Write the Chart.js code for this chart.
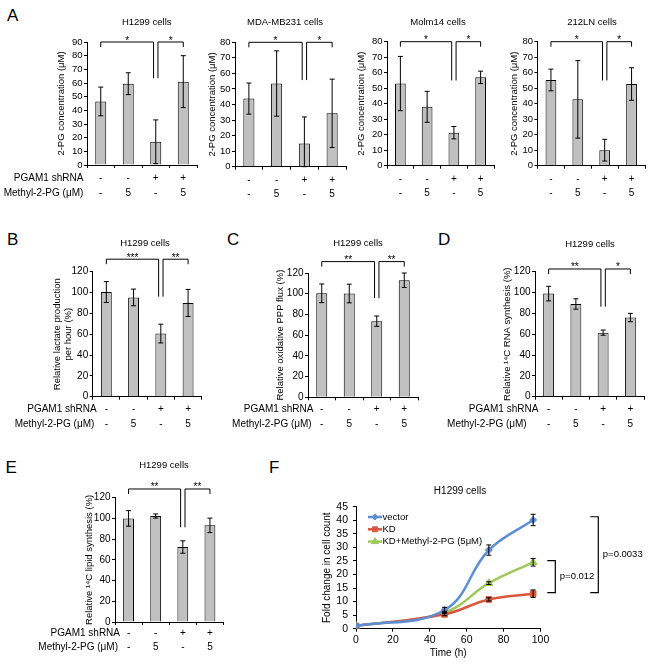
<!DOCTYPE html>
<html><head><meta charset="utf-8">
<script src="https://cdn.jsdelivr.net/npm/chart.js@4.4.1/dist/chart.umd.min.js"></script>
<style>
html,body{margin:0;padding:0;background:#fff}
#page{position:relative;width:651px;height:665px;overflow:hidden;background:#fff;font-family:"Liberation Sans",Arial,sans-serif}
#page canvas{position:absolute}
.pl{position:absolute;font-size:17px;line-height:17px;color:#000}
</style></head><body><div id="page">
<div class="pl" style="left:7px;top:6.6px">A</div>
<div class="pl" style="left:7px;top:230.6px">B</div>
<div class="pl" style="left:227px;top:231.3px">C</div>
<div class="pl" style="left:438px;top:230.6px">D</div>
<div class="pl" style="left:5.5px;top:458.6px">E</div>
<div class="pl" style="left:269px;top:458.6px">F</div>
</div>
<script>
const FONT = '"Liberation Sans", Arial, sans-serif';
Chart.defaults.font.family = FONT;
Chart.defaults.color = '#000';

// ---- shared categories ----
const categories = ['control', 'Methyl-2-PG', 'PGAM1 shRNA', 'PGAM1 shRNA + Methyl-2-PG'];
const shRNA = ['-', '-', '+', '+'];
const methyl2PG = ['-', '5', '-', '5'];
const rowHeaders = ['PGAM1 shRNA', 'Methyl-2-PG (\u03bcM)'];

// ---- panel A: 2-PG concentration (uM) ----
const a_h1299 = [46.5, 59.5, 17, 61];
const a_h1299_err = [10.5, 8, 16, 19];
const a_mda = [43.8, 53.5, 15, 34.3];
const a_mda_err = [10, 21, 17, 22];
const a_molm = [53, 38, 21.3, 57];
const a_molm_err = [17.5, 10, 4, 4];
const a_212 = [55.3, 42.8, 10, 52.7];
const a_212_err = [7, 25, 7, 10.5];
// ---- panels B-E (%) ----
const b_lactate = [100.5, 95.3, 60.6, 90];
const b_lactate_err = [10, 8, 9, 13];
const c_ppp = [100.4, 100.2, 73.5, 113];
const c_ppp_err = [9, 9, 5, 7];
const d_rna = [99, 89, 61.5, 76];
const d_rna_err = [7, 5, 2.5, 4];
const e_lipid = [100, 102.3, 72.4, 93.3];
const e_lipid_err = [7.5, 2, 6, 7];
// significance: [top of bracket, drop of inner legs] and marks
const sig_a_h1299 = [90, 63.5], sig_a_h1299_marks = ['*', '*'];
const sig_a_mda = [80, 55.7], sig_a_mda_marks = ['*', '*'];
const sig_a_molm = [80, 55], sig_a_molm_marks = ['*', '*'];
const sig_a_212 = [80, 55], sig_a_212_marks = ['*', '*'];
const sig_b = [132, 96], sig_b_marks = ['***', '**'];
const sig_c = [131, 95.7], sig_c_marks = ['**', '**'];
const sig_d = [122.6, 86.4], sig_d_marks = ['**', '*'];
const sig_e = [128.4, 91.4], sig_e_marks = ['**', '**'];

// ---- panel F: growth curve ----
const f_time = [0, 48, 72, 96];
const f_xticks = [0, 20, 40, 60, 80, 100];
const f_yticks = [0, 5, 10, 15, 20, 25, 30, 35, 40, 45];
const f_vector = [1, 6.9, 29, 40.1];
const f_vector_err = [0, 1, 1.9, 2.1];
const f_kd = [1, 5.3, 10.8, 12.9];
const f_kd_err = [0, 0.5, 0.6, 1.4];
const f_kdm = [1, 6, 16.8, 24.5];
const f_kdm_err = [0, 0.4, 0.5, 1.4];
const f_labels = ['vector', 'KD', 'KD+Methyl-2-PG (5\u03bcM)'];
const f_pvalues = ['p=0.012', 'p=0.0033'];
const f_pranges = [[13.3, 25.1], [13.3, 41.3]];

const page = document.getElementById('page');
const FS = 9.5, FR = 10, LH = 14.5;

function makeCanvas(box) {
  const cv = document.createElement('canvas');
  cv.width = box.w; cv.height = box.h;
  cv.style.left = box.x + 'px'; cv.style.top = box.y + 'px';
  cv.style.width = box.w + 'px'; cv.style.height = box.h + 'px';
  page.appendChild(cv);
  return cv;
}

function barExtras(c) {
  return { id: 'barExtras', afterDraw(chart) {
    const ctx = chart.ctx, ys = chart.scales.y, xs = chart.scales.x;
    const meta = chart.getDatasetMeta(0);
    const ox = c.box.x, oy = c.box.y;
    ctx.save();
    ctx.strokeStyle = '#000'; ctx.fillStyle = '#000'; ctx.lineWidth = 1;
    // error bars
    c.values.forEach((v, i) => {
      const x = meta.data[i].x;
      const yT = ys.getPixelForValue(v + c.errors[i]);
      const yB = ys.getPixelForValue(Math.max(0, v - c.errors[i]));
      ctx.beginPath();
      ctx.moveTo(x, yT); ctx.lineTo(x, yB);
      ctx.moveTo(x - 2.5, yT); ctx.lineTo(x + 2.5, yT);
      ctx.moveTo(x - 2.5, yB); ctx.lineTo(x + 2.5, yB);
      ctx.stroke();
    });
    // significance brackets
    const yTop = ys.getPixelForValue(c.sig[0]), yDrop = ys.getPixelForValue(c.sig[1]);
    const x0 = meta.data[0].x, x2 = meta.data[2].x, x3 = meta.data[3].x;
    const g = 2.2, tk = 5;
    ctx.beginPath();
    ctx.moveTo(x0, yTop + tk); ctx.lineTo(x0, yTop); ctx.lineTo(x2 - g, yTop); ctx.lineTo(x2 - g, yDrop);
    ctx.moveTo(x2 + g, yDrop); ctx.lineTo(x2 + g, yTop); ctx.lineTo(x3, yTop); ctx.lineTo(x3, yTop + tk);
    ctx.stroke();
    ctx.font = '10px ' + FONT; ctx.textAlign = 'center'; ctx.textBaseline = 'alphabetic';
    ctx.fillText(c.marks[0], (x0 + x2 - g) / 2, yTop + 1.5);
    ctx.fillText(c.marks[1], (x2 + g + x3) / 2, yTop + 1.5);
    // title
    ctx.font = FS + 'px ' + FONT; ctx.textBaseline = 'middle';
    ctx.fillText(c.title[0], c.title[1] - ox, c.title[2] - oy);
    // row headers
    if (c.headerEnd) {
      ctx.font = FR + 'px ' + FONT;
      const y1 = xs.top + 3 + c.tickPad + LH / 2;
      ctx.textAlign = 'right';
      rowHeaders.forEach((h, k) => ctx.fillText(h, c.headerEnd[k] - ox, y1 + k * LH));
    }
    ctx.restore();
  }};
}

function makeBarChart(c) {
  const box = c.box, area = c.area;
  const cv = makeCanvas(box);
  const yw = area.l - box.x, xh = box.y + box.h - area.b;
  const ylh = c.ytitleLH || FS * 1.2;
  return new Chart(cv, {
    type: 'bar',
    data: {
      labels: categories.map((_, i) => [shRNA[i], methyl2PG[i]]),
      datasets: [{ data: c.values, backgroundColor: '#c0c0c0', borderColor: '#000', borderWidth: 1,
        categoryPercentage: 0.8, barPercentage: 0.5 }]
    },
    options: {
      responsive: false, animation: false, devicePixelRatio: 1,
      layout: { padding: { left: 0, top: area.t - box.y, right: box.x + box.w - area.r, bottom: 0 } },
      plugins: { legend: { display: false }, tooltip: { enabled: false } },
      scales: {
        x: {
          grid: { display: true, drawOnChartArea: false, tickLength: 3, color: '#000', offset: true },
          border: { display: true, color: '#000', width: 1 },
          ticks: { font: { size: FR, family: FONT, lineHeight: LH + 'px' }, color: '#000', padding: c.tickPad, maxRotation: 0, autoSkip: false },
          afterFit(s) { s.height = xh; }
        },
        y: {
          min: 0, max: c.max,
          ticks: { stepSize: c.step, font: { size: c.tickFS, family: FONT }, color: '#000', padding: 1.5, autoSkip: false },
          grid: { drawOnChartArea: false, tickLength: 3, color: '#000' },
          border: { display: true, color: '#000', width: 1 },
          title: { display: true, text: c.ytitle, color: '#000',
            font: { size: FS, family: FONT, lineHeight: ylh + 'px' },
            padding: { top: c.ytitleX - box.x - ylh / 2, bottom: 0 } },
          afterFit(s) { s.width = yw; }
        }
      }
    },
    plugins: [barExtras(c)]
  });
}

makeBarChart({ box: { x: 0, y: 12, w: 205, h: 195 }, area: { l: 87, t: 42, r: 197, b: 165 },
  values: a_h1299, errors: a_h1299_err, sig: sig_a_h1299, marks: sig_a_h1299_marks, max: 90, step: 10, tickFS: 9.5,
  ytitle: '2-PG concentration (\u03bcM)', ytitleX: 61, title: ['H1299 cells', 146.7, 22],
  headerEnd: [83.3, 83.3], tickPad: 3 });
makeBarChart({ box: { x: 205, y: 12, w: 148, h: 195 }, area: { l: 235, t: 42.3, r: 346, b: 166.7 },
  values: a_mda, errors: a_mda_err, sig: sig_a_mda, marks: sig_a_mda_marks, max: 80, step: 10, tickFS: 9.5,
  ytitle: '2-PG concentration (\u03bcM)', ytitleX: 212.7, title: ['MDA-MB231 cells', 285, 22], tickPad: 3 });
makeBarChart({ box: { x: 353, y: 12, w: 148, h: 195 }, area: { l: 387, t: 41.7, r: 494, b: 165.7 },
  values: a_molm, errors: a_molm_err, sig: sig_a_molm, marks: sig_a_molm_marks, max: 80, step: 10, tickFS: 9.5,
  ytitle: '2-PG concentration (\u03bcM)', ytitleX: 361.7, title: ['Molm14 cells', 438, 22], tickPad: 3 });
makeBarChart({ box: { x: 501, y: 12, w: 150, h: 195 }, area: { l: 537.5, t: 41.7, r: 645, b: 165.7 },
  values: a_212, errors: a_212_err, sig: sig_a_212, marks: sig_a_212_marks, max: 80, step: 10, tickFS: 9.5,
  ytitle: '2-PG concentration (\u03bcM)', ytitleX: 514, title: ['212LN cells', 592, 22], tickPad: 3 });

makeBarChart({ box: { x: 0, y: 232, w: 215, h: 200 }, area: { l: 92.7, t: 271.7, r: 201.7, b: 396.7 },
  values: b_lactate, errors: b_lactate_err, sig: sig_b, marks: sig_b_marks, max: 120, step: 20, tickFS: 10,
  ytitle: ['Relative lactate production', 'per hour (%)'], ytitleX: 57.3, ytitleLH: 11,
  title: ['H1299 cells', 145, 243.5], headerEnd: [96.7, 94.3], tickPad: 2.5 });
makeBarChart({ box: { x: 215, y: 232, w: 215, h: 200 }, area: { l: 308, t: 273, r: 418, b: 397.3 },
  values: c_ppp, errors: c_ppp_err, sig: sig_c, marks: sig_c_marks, max: 120, step: 20, tickFS: 10,
  ytitle: 'Relative oxidative PPP flux (%)', ytitleX: 280.7,
  title: ['H1299 cells', 358, 243.5], headerEnd: [313.3, 311.7], tickPad: 2 });
makeBarChart({ box: { x: 430, y: 232, w: 221, h: 200 }, area: { l: 535, t: 271.7, r: 644, b: 396.7 },
  values: d_rna, errors: d_rna_err, sig: sig_d, marks: sig_d_marks, max: 120, step: 20, tickFS: 10,
  ytitle: 'Relative \u00b9\u2074C RNA synthesis (%)', ytitleX: 507.7,
  title: ['H1299 cells', 590, 244.5], headerEnd: [538.3, 526.7], tickPad: 2.5 });
makeBarChart({ box: { x: 0, y: 455, w: 240, h: 210 }, area: { l: 115, t: 497.7, r: 223.5, b: 622 },
  values: e_lipid, errors: e_lipid_err, sig: sig_e, marks: sig_e_marks, max: 120, step: 20, tickFS: 10,
  ytitle: 'Relative \u00b9\u2074C lipid synthesis (%)', ytitleX: 89,
  title: ['H1299 cells', 164, 465], headerEnd: [120, 118], tickPad: 0.5 });

// ---- panel F ----
(function () {
  const box = { x: 300, y: 478, w: 351, h: 187 }, area = { l: 356, t: 506.7, r: 540.5, b: 628.7 };
  const cv = makeCanvas(box);
  const colors = ['#5b8ed6', '#d9583c', '#9dc85a'];
  const styles = ['rectRot', 'rect', 'triangle'];
  const radii = [3.5, 4, 4.5];
  const series = [f_vector, f_kd, f_kdm];
  const errs = [f_vector_err, f_kd_err, f_kdm_err];
  const tf = { size: 10.5, family: FONT };
  const titleFont = { size: 10, family: FONT, lineHeight: '12px' };
  const extras = { id: 'fExtras', afterDraw(chart) {
    const ctx = chart.ctx, xs = chart.scales.x, ys = chart.scales.y, ca = chart.chartArea;
    const ox = box.x, oy = box.y;
    ctx.save();
    ctx.strokeStyle = '#000'; ctx.fillStyle = '#000'; ctx.lineWidth = 1;
    series.forEach((s, di) => s.forEach((v, i) => {
      const e = errs[di][i]; if (!e) return;
      const x = xs.getPixelForValue(f_time[i]);
      const t = ys.getPixelForValue(v + e), b = ys.getPixelForValue(v - e);
      ctx.beginPath();
      ctx.moveTo(x, t); ctx.lineTo(x, b);
      ctx.moveTo(x - 2.5, t); ctx.lineTo(x + 2.5, t);
      ctx.moveTo(x - 2.5, b); ctx.lineTo(x + 2.5, b);
      ctx.stroke();
    }));
    // legend
    ctx.font = '9.5px ' + FONT; ctx.textBaseline = 'middle'; ctx.textAlign = 'left';
    f_labels.forEach((lab, i) => {
      const y = 517 - oy + i * 12.3, x1 = 368 - ox, x2 = 382 - ox;
      ctx.strokeStyle = colors[i]; ctx.fillStyle = colors[i]; ctx.lineWidth = 2.5;
      ctx.beginPath(); ctx.moveTo(x1, y); ctx.lineTo(x2, y); ctx.stroke();
      ctx.lineWidth = 1;
      Chart.helpers.drawPoint(ctx, { pointStyle: styles[i], radius: radii[i] - 0.5, rotation: 0, borderWidth: 1 }, (x1 + x2) / 2, y);
      ctx.fillStyle = '#000';
      ctx.fillText(lab, x2 + 0.5, y);
    });
    // title
    ctx.textAlign = 'center'; ctx.font = '10px ' + FONT;
    ctx.fillText('H1299 cells', 460 - ox, 491.7 - oy);
    // p-value brackets
    ctx.strokeStyle = '#000'; ctx.lineWidth = 1.2; ctx.textAlign = 'left'; ctx.font = '9.5px ' + FONT;
    const xv = [ca.right + 14.8, ca.right + 57.8];
    f_pranges.forEach((r, k) => {
      const yl = ys.getPixelForValue(r[0]), yh = ys.getPixelForValue(r[1]);
      ctx.beginPath();
      ctx.moveTo(xv[k] - 8, yh); ctx.lineTo(xv[k], yh); ctx.lineTo(xv[k], yl); ctx.lineTo(xv[k] - 8, yl);
      ctx.stroke();
      ctx.fillText(f_pvalues[k], xv[k] + 4.5, (yl + yh) / 2);
    });
    ctx.restore();
  }};
  new Chart(cv, {
    type: 'line',
    data: {
      datasets: series.map((s, i) => ({
        label: f_labels[i],
        data: s.map((v, j) => ({ x: f_time[j], y: v })),
        borderColor: colors[i], backgroundColor: colors[i], borderWidth: 2.5,
        pointStyle: styles[i], pointRadius: radii[i], pointBorderWidth: 1,
        tension: 0.4, fill: false
      }))
    },
    options: {
      responsive: false, animation: false, devicePixelRatio: 1,
      layout: { padding: { left: 0, top: area.t - box.y, right: box.x + box.w - area.r, bottom: 0 } },
      plugins: { legend: { display: false }, tooltip: { enabled: false } },
      scales: {
        x: {
          type: 'linear', min: 0, max: 100,
          afterBuildTicks(s) { s.ticks = f_xticks.map(v => ({ value: v })); },
          grid: { drawOnChartArea: false, tickLength: 3, color: '#000' },
          border: { display: true, color: '#000', width: 1 },
          ticks: { font: tf, color: '#000', padding: 2, autoSkip: false, maxRotation: 0 },
          title: { display: true, text: 'Time (h)', color: '#000', font: titleFont, padding: { top: 0, bottom: 6 } },
          afterFit(s) { s.height = box.y + box.h - area.b; }
        },
        y: {
          min: 0, max: 45,
          afterBuildTicks(s) { s.ticks = f_yticks.map(v => ({ value: v })); },
          ticks: { font: tf, color: '#000', padding: 5, autoSkip: false },
          grid: { drawOnChartArea: false, tickLength: 3, color: '#000' },
          border: { display: true, color: '#000', width: 1 },
          title: { display: true, text: 'Fold change in cell count', color: '#000', font: titleFont, padding: { top: 327 - box.x - 6, bottom: 0 } },
          afterFit(s) { s.width = area.l - box.x; }
        }
      }
    },
    plugins: [extras]
  });
})();
</script></body></html>
